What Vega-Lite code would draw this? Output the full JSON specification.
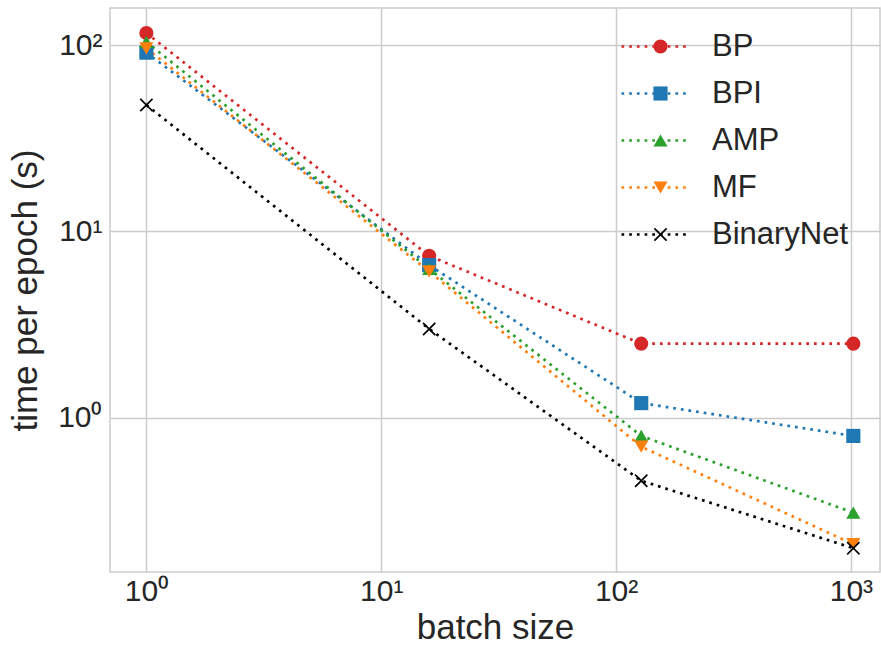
{
  "$schema": "https://vega.github.io/schema/vega-lite/v6.json",
  "width": 770,
  "height": 564,
  "autosize": {"type": "none"},
  "padding": {"left": 110, "top": 8, "right": 1, "bottom": 75},
  "background": "white",
  "config": {
    "font": "Liberation Sans",
    "view": {"stroke": "#cccccc", "strokeWidth": 1.5},
    "axis": {
      "domain": false,
      "ticks": false,
      "grid": true,
      "gridColor": "#cccccc",
      "gridWidth": 1.5,
      "labelFont": "Liberation Sans",
      "labelFontSize": 30,
      "labelColor": "#262626",
      "titleFont": "Liberation Sans",
      "titleFontSize": 35,
      "titleFontWeight": "normal",
      "titleColor": "#262626"
    },
    "legend": {
      "labelFont": "Liberation Sans",
      "labelFontSize": 31,
      "labelColor": "#262626",
      "padding": 0
    }
  },
  "data": {
    "values": [
      {"method": "BP", "batch": 1, "time": 116},
      {"method": "BP", "batch": 16, "time": 7.4},
      {"method": "BP", "batch": 128, "time": 2.5},
      {"method": "BP", "batch": 1024, "time": 2.5},
      {"method": "BPI", "batch": 1, "time": 91},
      {"method": "BPI", "batch": 16, "time": 6.6},
      {"method": "BPI", "batch": 128, "time": 1.2},
      {"method": "BPI", "batch": 1024, "time": 0.8},
      {"method": "AMP", "batch": 1, "time": 104},
      {"method": "AMP", "batch": 16, "time": 6.3},
      {"method": "AMP", "batch": 128, "time": 0.8},
      {"method": "AMP", "batch": 1024, "time": 0.31},
      {"method": "MF", "batch": 1, "time": 96},
      {"method": "MF", "batch": 16, "time": 6.1},
      {"method": "MF", "batch": 128, "time": 0.7},
      {"method": "MF", "batch": 1024, "time": 0.21},
      {"method": "BinaryNet", "batch": 1, "time": 47.7},
      {"method": "BinaryNet", "batch": 16, "time": 3.0},
      {"method": "BinaryNet", "batch": 128, "time": 0.46},
      {"method": "BinaryNet", "batch": 1024, "time": 0.2}
    ]
  },
  "encoding": {
    "x": {
      "field": "batch",
      "type": "quantitative",
      "scale": {"type": "log", "domain": [0.7, 1330], "nice": false},
      "axis": {
        "title": "batch size",
        "values": [1, 10, 100, 1000],
        "labelExpr": "datum.value == 1 ? '10⁰' : datum.value == 10 ? '10¹' : datum.value == 100 ? '10²' : '10³'",
        "labelPadding": 4,
        "titlePadding": 4
      }
    },
    "y": {
      "field": "time",
      "type": "quantitative",
      "scale": {"type": "log", "domain": [0.149, 158], "nice": false},
      "axis": {
        "title": "time per epoch (s)",
        "values": [1, 10, 100],
        "labelExpr": "datum.value == 1 ? '10⁰' : datum.value == 10 ? '10¹' : '10²'",
        "labelPadding": 8,
        "titlePadding": 14
      }
    }
  },
  "layer": [
    {
      "mark": {"type": "line", "strokeWidth": 2.7, "strokeDash": [2.7, 5], "strokeCap": "butt"},
      "encoding": {
        "stroke": {
          "field": "method",
          "type": "nominal",
          "sort": ["BP", "BPI", "AMP", "MF", "BinaryNet"],
          "scale": {"range": ["#d62728", "#1f77b4", "#2ca02c", "#ff7f0e", "#000000"]},
          "legend": {
            "title": null, "orient": "none", "legendX": 510, "legendY": 23,
            "symbolType": "stroke", "symbolSize": 4225, "symbolStrokeWidth": 2.7, "symbolDash": [2.7, 5],
            "clipHeight": 31, "rowPadding": 15, "labelOffset": 24
          }
        },
        "detail": {"field": "method"}
      }
    },
    {
      "mark": {"type": "point", "filled": true, "opacity": 1, "size": 200},
      "encoding": {
        "fill": {
          "field": "method",
          "type": "nominal",
          "scale": {"domain": ["BP", "BPI", "AMP", "MF", "BinaryNet"], "range": ["#d62728", "#1f77b4", "#2ca02c", "#ff7f0e", "#000000"]},
          "legend": {
            "title": null, "orient": "none", "legendX": 535, "legendY": 23,
            "symbolSize": 200, "symbolStrokeWidth": 0,
            "clipHeight": 31, "rowPadding": 15, "labelExpr": "''"
          }
        },
        "shape": {
          "field": "method",
          "type": "nominal",
          "scale": {"domain": ["BP", "BPI", "AMP", "MF", "BinaryNet"], "range": ["circle", "square", "triangle-up", "triangle-down", "M-0.95,-0.78L-0.78,-0.95L0,-0.17L0.78,-0.95L0.95,-0.78L0.17,0L0.95,0.78L0.78,0.95L0,0.17L-0.78,0.95L-0.95,0.78L-0.17,0Z"]},
          "legend": {
            "title": null, "orient": "none", "legendX": 535, "legendY": 23,
            "symbolSize": 200, "symbolStrokeWidth": 0,
            "clipHeight": 31, "rowPadding": 15, "labelExpr": "''"
          }
        }
      }
    }
  ]
}
